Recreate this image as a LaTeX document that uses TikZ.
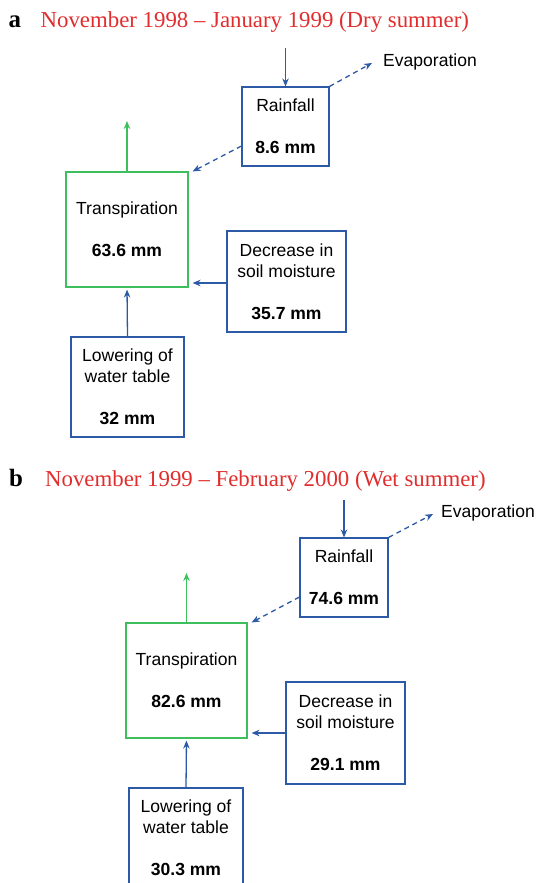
\documentclass[tikz,border=0pt]{standalone}
\usepackage{fontspec}
\setmainfont{Liberation Serif}
\newfontfamily\boxfont{Liberation Sans}
\usetikzlibrary{arrows.meta,calc}
\definecolor{bblue}{RGB}{44,90,167}
\definecolor{bgreen}{RGB}{62,190,92}
\definecolor{tred}{RGB}{225,45,45}
\begin{document}
\begin{tikzpicture}[x=1bp,y=-1bp,
  flowbox/.style={draw=bblue,line width=1.1bp,inner sep=0pt,align=center,
    font=\boxfont\fontsize{17.6}{21}\selectfont},
  tbox/.style={flowbox,draw=bgreen},
  arr/.style={draw=bblue,line width=1.3bp,-{Stealth[length=8bp,width=6.5bp,inset=2.5bp]}},
  garr/.style={arr,draw=bgreen},
  darr/.style={arr,dash pattern=on 5bp off 4bp},
  lbl/.style={font=\boxfont\fontsize{17.6}{21}\selectfont,inner sep=0pt,anchor=west},
  ttl/.style={font=\fontsize{22.9}{26}\selectfont,text=tred,inner sep=0pt,anchor=base west},
  tlet/.style={font=\bfseries\fontsize{25}{28}\selectfont,inner sep=0pt,anchor=base west}]
\useasboundingbox (0,0) rectangle (538,883);
\clip (0,0) rectangle (538,883);
% ---------- panel a ----------
\node[tlet] (la) at (8.5,27) {a};
\node[ttl] (ta) at (40.5,27) {November 1998 -- January 1999 (Dry summer)};
\node[flowbox,minimum width=87bp,minimum height=79bp] (rainA) at (285.5,126.5)
  {Rainfall\\[21bp]\textbf{8.6 mm}};
\node[tbox,minimum width=122bp,minimum height=115bp] (transA) at (127,229.5)
  {Transpiration\\[21bp]\textbf{63.6 mm}};
\node[flowbox,minimum width=119bp,minimum height=101bp] (decA) at (286.5,281.5)
  {Decrease in\\soil moisture\\[21bp]\textbf{35.7 mm}};
\node[flowbox,minimum width=113bp,minimum height=100bp] (lowA) at (127.5,387)
  {Lowering of\\water table\\[21bp]\textbf{32 mm}};
\node[lbl] (evA) at (383,62) {Evaporation};
\coordinate (rinA) at (285.5,48);
\coordinate (evtA) at (372,63);
\coordinate (gtA) at (127,121);
\draw[arr] (rinA) -- (rainA.north);
\draw[darr] (rainA.north east) -- (evtA);
\draw[darr] ([yshift=-19.5bp]rainA.west) -- ([xshift=4bp]transA.north east);
\draw[garr] (transA.north) -- (gtA);
\draw[arr,shorten >=4bp] ([yshift=-1.5bp]decA.west) -- ([yshift=-1.5bp]decA.west -| transA.east);
\draw[arr,shorten >=2bp] (lowA.north) -- (transA.south);
% ---------- panel b ----------
\node[tlet] (lb) at (9,486) {b};
\node[ttl] (tb) at (45,486) {November 1999 -- February 2000 (Wet summer)};
\node[flowbox,minimum width=88bp,minimum height=79bp] (rainB) at (344,577.5)
  {Rainfall\\[21bp]\textbf{74.6 mm}};
\node[tbox,minimum width=121bp,minimum height=115bp] (transB) at (186.5,680.5)
  {Transpiration\\[21bp]\textbf{82.6 mm}};
\node[flowbox,minimum width=119bp,minimum height=102bp] (decB) at (345.5,733)
  {Decrease in\\soil moisture\\[21bp]\textbf{29.1 mm}};
\node[flowbox,minimum width=114bp,minimum height=100bp] (lowB) at (186,838)
  {Lowering of\\water table\\[21bp]\textbf{30.3 mm}};
\node[lbl] (evB) at (441,513) {Evaporation};
\coordinate (rinB) at (344,500);
\coordinate (evtB) at (433,514);
\coordinate (gtB) at (186.5,573);
\draw[arr] (rinB) -- (rainB.north);
\draw[darr] (rainB.north east) -- (evtB);
\draw[darr] ([yshift=-19.5bp]rainB.west) -- ([xshift=4bp]transB.north east);
\draw[garr] (transB.north) -- (gtB);
\draw[arr,shorten >=4bp] (decB.west) -- (decB.west -| transB.east);
\draw[arr,shorten >=2bp] (lowB.north) -- (transB.south);
\end{tikzpicture}
\end{document}
